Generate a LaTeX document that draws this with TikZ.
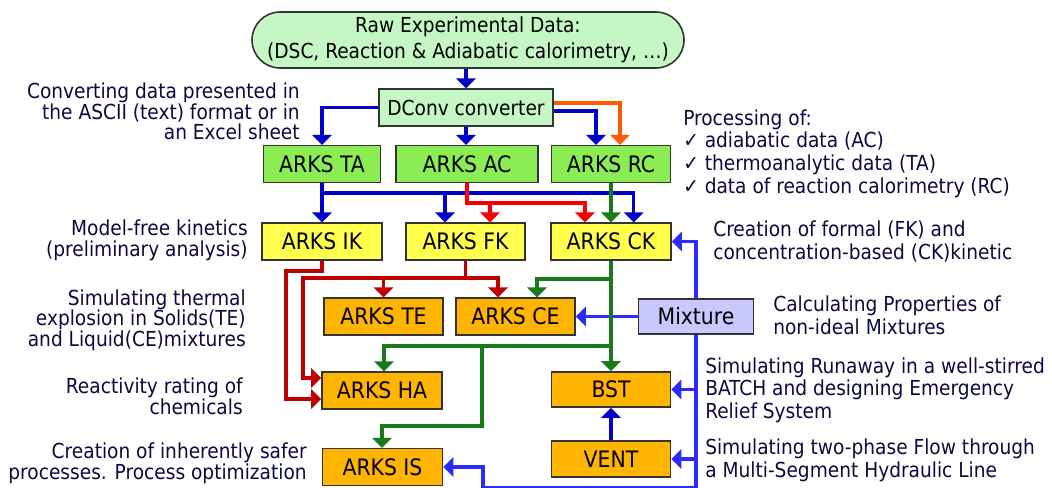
\documentclass[tikz,border=0pt]{standalone}
\usepackage{fontspec}
\setmainfont{DejaVuSansCondensed}[Extension=.ttf]
\usepackage{tikz}
\usetikzlibrary{arrows.meta,positioning,calc}
\definecolor{rawgreen}{HTML}{C4F7C4}
\definecolor{arksgreen}{HTML}{8CEC54}
\definecolor{arksyellow}{HTML}{FFFF4D}
\definecolor{arksorange}{HTML}{FFB400}
\definecolor{mixblue}{HTML}{C8C8FF}
\definecolor{darkblue}{HTML}{0000CC}
\definecolor{brightblue}{HTML}{2B2BFF}
\definecolor{lightred}{HTML}{F80000}
\definecolor{darkred}{HTML}{C00000}
\definecolor{orangered}{HTML}{FF5A00}
\definecolor{darkgrn}{HTML}{1A7A1A}
\definecolor{navytext}{HTML}{0A0A40}
\newcommand{\descfont}{\fontsize{15.5}{15.5}\selectfont}
\newcommand{\rdescfont}{\fontsize{15.5}{17}\selectfont}
\newcommand{\boxfont}{\fontsize{17}{20}\selectfont}

\begin{document}
\begin{tikzpicture}[x=0.75pt,y=-0.75pt,
  arks/.style={draw=black!80, line width=1.2pt, minimum width=89.25pt, minimum height=27.5pt, inner sep=0pt, font=\boxfont},
  desc/.style={text=navytext, inner sep=0pt, font=\descfont},
  rdesc/.style={text=navytext, inner sep=0pt, font=\rdescfont, anchor=west, align=left},
  conn/.style={line width=2.4pt, -{Triangle[width=14.5pt,length=7.5pt]}},
  dblue/.style={conn, draw=darkblue},
  bblue/.style={conn, draw=brightblue},
  lred/.style={conn, draw=lightred},
  dred/.style={conn, draw=darkred},
  orng/.style={conn, draw=orangered},
  dgrn/.style={conn, draw=darkgrn}]
\useasboundingbox (0,0) rectangle (1052,487);

\node[arks, fill=rawgreen, rounded corners=21pt, minimum width=324pt, minimum height=42pt, align=center, font=\fontsize{15.5}{19.5}\selectfont] (raw) at (468,40) {Raw Experimental Data:\\(DSC, Reaction \& Adiabatic calorimetry, …)};
\node[arks, fill=rawgreen, minimum width=130.5pt, font=\fontsize{15.5}{18}\selectfont] (dconv) at (466,107.5) {DConv converter};

\node[arks, fill=arksgreen, minimum width=87.75pt] (ta) at (322,164) {ARKS TA};
\node[arks, fill=arksgreen, minimum width=106.5pt] (ac) at (467,164) {ARKS AC};
\node[arks, fill=arksgreen] (rc) at (611,164) {ARKS RC};

\node[arks, fill=arksyellow, minimum width=90pt] (ik) at (322,241.5) {ARKS IK};
\node[arks, fill=arksyellow] (fk) at (465.5,241.5) {ARKS FK};
\node[arks, fill=arksyellow, minimum width=90pt] (ck) at (611,241.5) {ARKS CK};

\node[arks, fill=arksorange] (te) at (383.5,316.5) {ARKS TE};
\node[arks, fill=arksorange] (ce) at (515.5,316.5) {ARKS CE};
\node[arks, fill=mixblue, minimum width=86.25pt, minimum height=26.25pt] (mix) at (696,316.5) {Mixture};
\node[arks, fill=arksorange, minimum width=90pt] (ha) at (382,390.5) {ARKS HA};
\node[arks, fill=arksorange, minimum height=26.25pt] (bst) at (611,389.5) {BST};
\node[arks, fill=arksorange, minimum height=27pt] (vent) at (611,459) {VENT};
\node[arks, fill=arksorange, minimum width=90pt] (is) at (382.5,467) {ARKS IS};

\coordinate (bus) at (0,193);
\coordinate (redbus) at (0,203);
\coordinate (ikb) at (286,271);
\coordinate (fkb) at (303,278);
\coordinate (g1) at (611,279);
\coordinate (g2) at (611,346);
\coordinate (g3) at (482,346);
\coordinate (g4) at (382,426);
\coordinate (isb) at (483,487.5);

\draw[dblue] (raw.south -| dconv.north) -- (dconv.north);
\draw[dblue] (dconv.west) -| (ta.north);
\draw[dblue] (dconv.south) -- (dconv.south |- ac.north);
\draw[dblue] ([yshift=-2.6pt]dconv.east) -| ([xshift=-11.25pt]rc.north);
\draw[orng] ([yshift=3.4pt]dconv.east) -| ([xshift=6.75pt]rc.north);

\draw[dblue] (ta.south) -- (ta.south |- ik.north);
\draw[dblue] (ta.south |- bus) -| ([xshift=-15.4pt]fk.north);
\draw[dblue] (ta.south |- bus) -| ([xshift=17pt]ck.north);
\draw[lred] (ac.south) -- (ac.south |- redbus) -| ([xshift=-19.5pt]ck.north);
\draw[lred] (ac.south |- redbus) -| ([xshift=18.4pt]fk.north);
\draw[dgrn] (rc.south) -- (ck.north);

\draw[dred] (ik.south) |- (ikb) |- ([yshift=-6.4pt]ha.west);
\draw[dred] (fk.south) |- (fkb) |- ([yshift=9.4pt]ha.west);
\draw[dred] (fkb) -| (te.north);
\draw[dred] (fkb) -| ([xshift=-13.1pt]ce.north);

\draw[bblue] (mix.north) |- (ck.east);
\draw[bblue] (mix.west) -- (ce.east);
\draw[bblue] (mix.south) |- (bst.east);
\draw[bblue] (mix.south) |- (vent.east);
\draw[bblue] (mix.south) |- (isb) |- (is.east);
\draw[dblue] (vent.north) -- (bst.south);

\draw[dgrn] (ck.south) -- (bst.north);
\draw[dgrn] (g1) -| ([xshift=16.1pt]ce.north);
\draw[dgrn] (g2) -| ([xshift=1.5pt]ha.north);
\draw[dgrn] (g3) |- (g4) -- (g4 |- is.north);

\node[desc, anchor=east, align=right] (convtxt) at (300,111.5) {Converting data presented in\\the ASCII (text) format or in\\an Excel sheet};
\node[desc, anchor=east, align=right] (iktxt) at (248,240) {Model-free kinetics\\(preliminary analysis)};
\node[desc, anchor=east, align=right] (tetxt) at (246,320) {Simulating thermal\\explosion in Solids(TE)\\and Liquid(CE)mixtures};
\node[desc, anchor=east, align=right] (hatxt) at (243,396) {Reactivity rating of\\chemicals};
\node[desc, anchor=east, align=right] (istxt) at (307,463.5) {Creation of inherently safer\\processes. Process optimization};

\node[rdesc] (proctxt) at (683,153.5) {Processing of:\\✓ adiabatic data (AC)\\✓ thermoanalytic data (TA)\\✓ data of reaction calorimetry (RC)};
\node[rdesc] (cktxt) at (713,241.5) {Creation of formal (FK) and\\concentration-based (CK)kinetic};
\node[rdesc] (mixtxt) at (773,315.5) {Calculating Properties of\\non-ideal Mixtures};
\node[rdesc] (bsttxt) at (705,390) {Simulating Runaway in a well-stirred\\BATCH and designing Emergency\\Relief System};
\node[rdesc] (venttxt) at (705,460) {Simulating two-phase Flow through\\a Multi-Segment Hydraulic Line};
\end{tikzpicture}
\end{document}
